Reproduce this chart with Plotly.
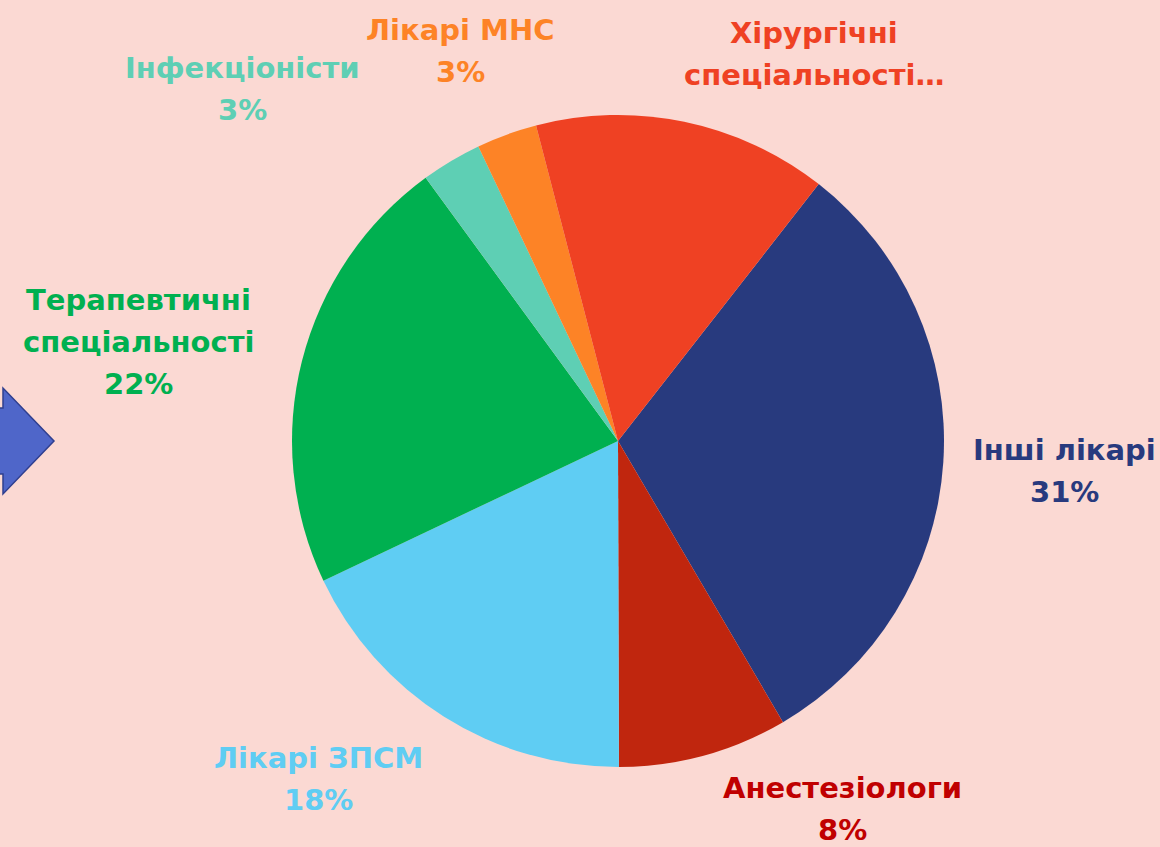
import plotly.graph_objects as go

labels = ["Інші лікарі", "Анестезіологи", "Лікарі ЗПСМ", "Терапевтичні спеціальності",
          "Інфекціоністи", "Лікарі МНС", "Хірургічні спеціальності"]
values = [31, 8.4, 18, 22, 3, 3, 14.6]
shown_pct = ["31%", "8%", "18%", "22%", "3%", "3%", ""]
label_lines = [["Інші лікарі"], ["Анестезіологи"], ["Лікарі ЗПСМ"], ["Терапевтичні", "спеціальності"],
               ["Інфекціоністи"], ["Лікарі МНС"], ["Хірургічні", "спеціальності…"]]
slice_colors = ["#283a7e", "#c0260e", "#5fcdf3", "#00b050", "#5ecfb4", "#fd8326", "#ef4123"]
text_colors = ["#283a7e", "#c00000", "#5fcdf3", "#00b050", "#5ecfb4", "#fd8326", "#ef4123"]

# label placement in pixels: x centre and y of first line, line step
label_x = [1064, 842, 318, 138, 242, 460, 814]
label_y0 = [450, 788, 758, 300, 68, 30, 33]
LINE_STEP = 42

W, H = 1160, 847
FONT = "DejaVu Sans"

fig = go.Figure(go.Pie(
    labels=labels, values=values, sort=False, direction="clockwise", rotation=38,
    marker=dict(colors=slice_colors, line=dict(width=0)),
    textinfo="none", hoverinfo="label+percent",
    domain=dict(x=[292 / W, 944 / W], y=[(H - 767) / H, (H - 115) / H]),
))

for lines, pct, col, x0, y0 in zip(label_lines, shown_pct, text_colors, label_x, label_y0):
    rows = lines + ([pct] if pct else [])
    for i, row in enumerate(rows):
        fig.add_annotation(x=x0 / W, y=1 - (y0 + i * LINE_STEP) / H, xref="paper", yref="paper",
                           text=f"<b>{row}</b>", showarrow=False,
                           font=dict(family=FONT, size=29, color=col),
                           xanchor="center", yanchor="middle")

# blue arrow on the left edge
fig.add_shape(type="path", xref="paper", yref="paper",
              path=f"M {-10 / W} {1 - 408 / H} L {3 / W} {1 - 408 / H} L {3 / W} {1 - 388 / H} "
                   f"L {54 / W} {1 - 441 / H} L {3 / W} {1 - 494 / H} L {3 / W} {1 - 474 / H} "
                   f"L {-10 / W} {1 - 474 / H} Z",
              fillcolor="#4f66c9", line=dict(color="#2f3f8f", width=1.5))

fig.update_layout(width=W, height=H, margin=dict(l=0, r=0, t=0, b=0), showlegend=False,
                  paper_bgcolor="#fbd9d3", plot_bgcolor="#fbd9d3")
fig.write_html("out.html", config={"displayModeBar": False},
               post_script="document.body.style.margin='0';")
